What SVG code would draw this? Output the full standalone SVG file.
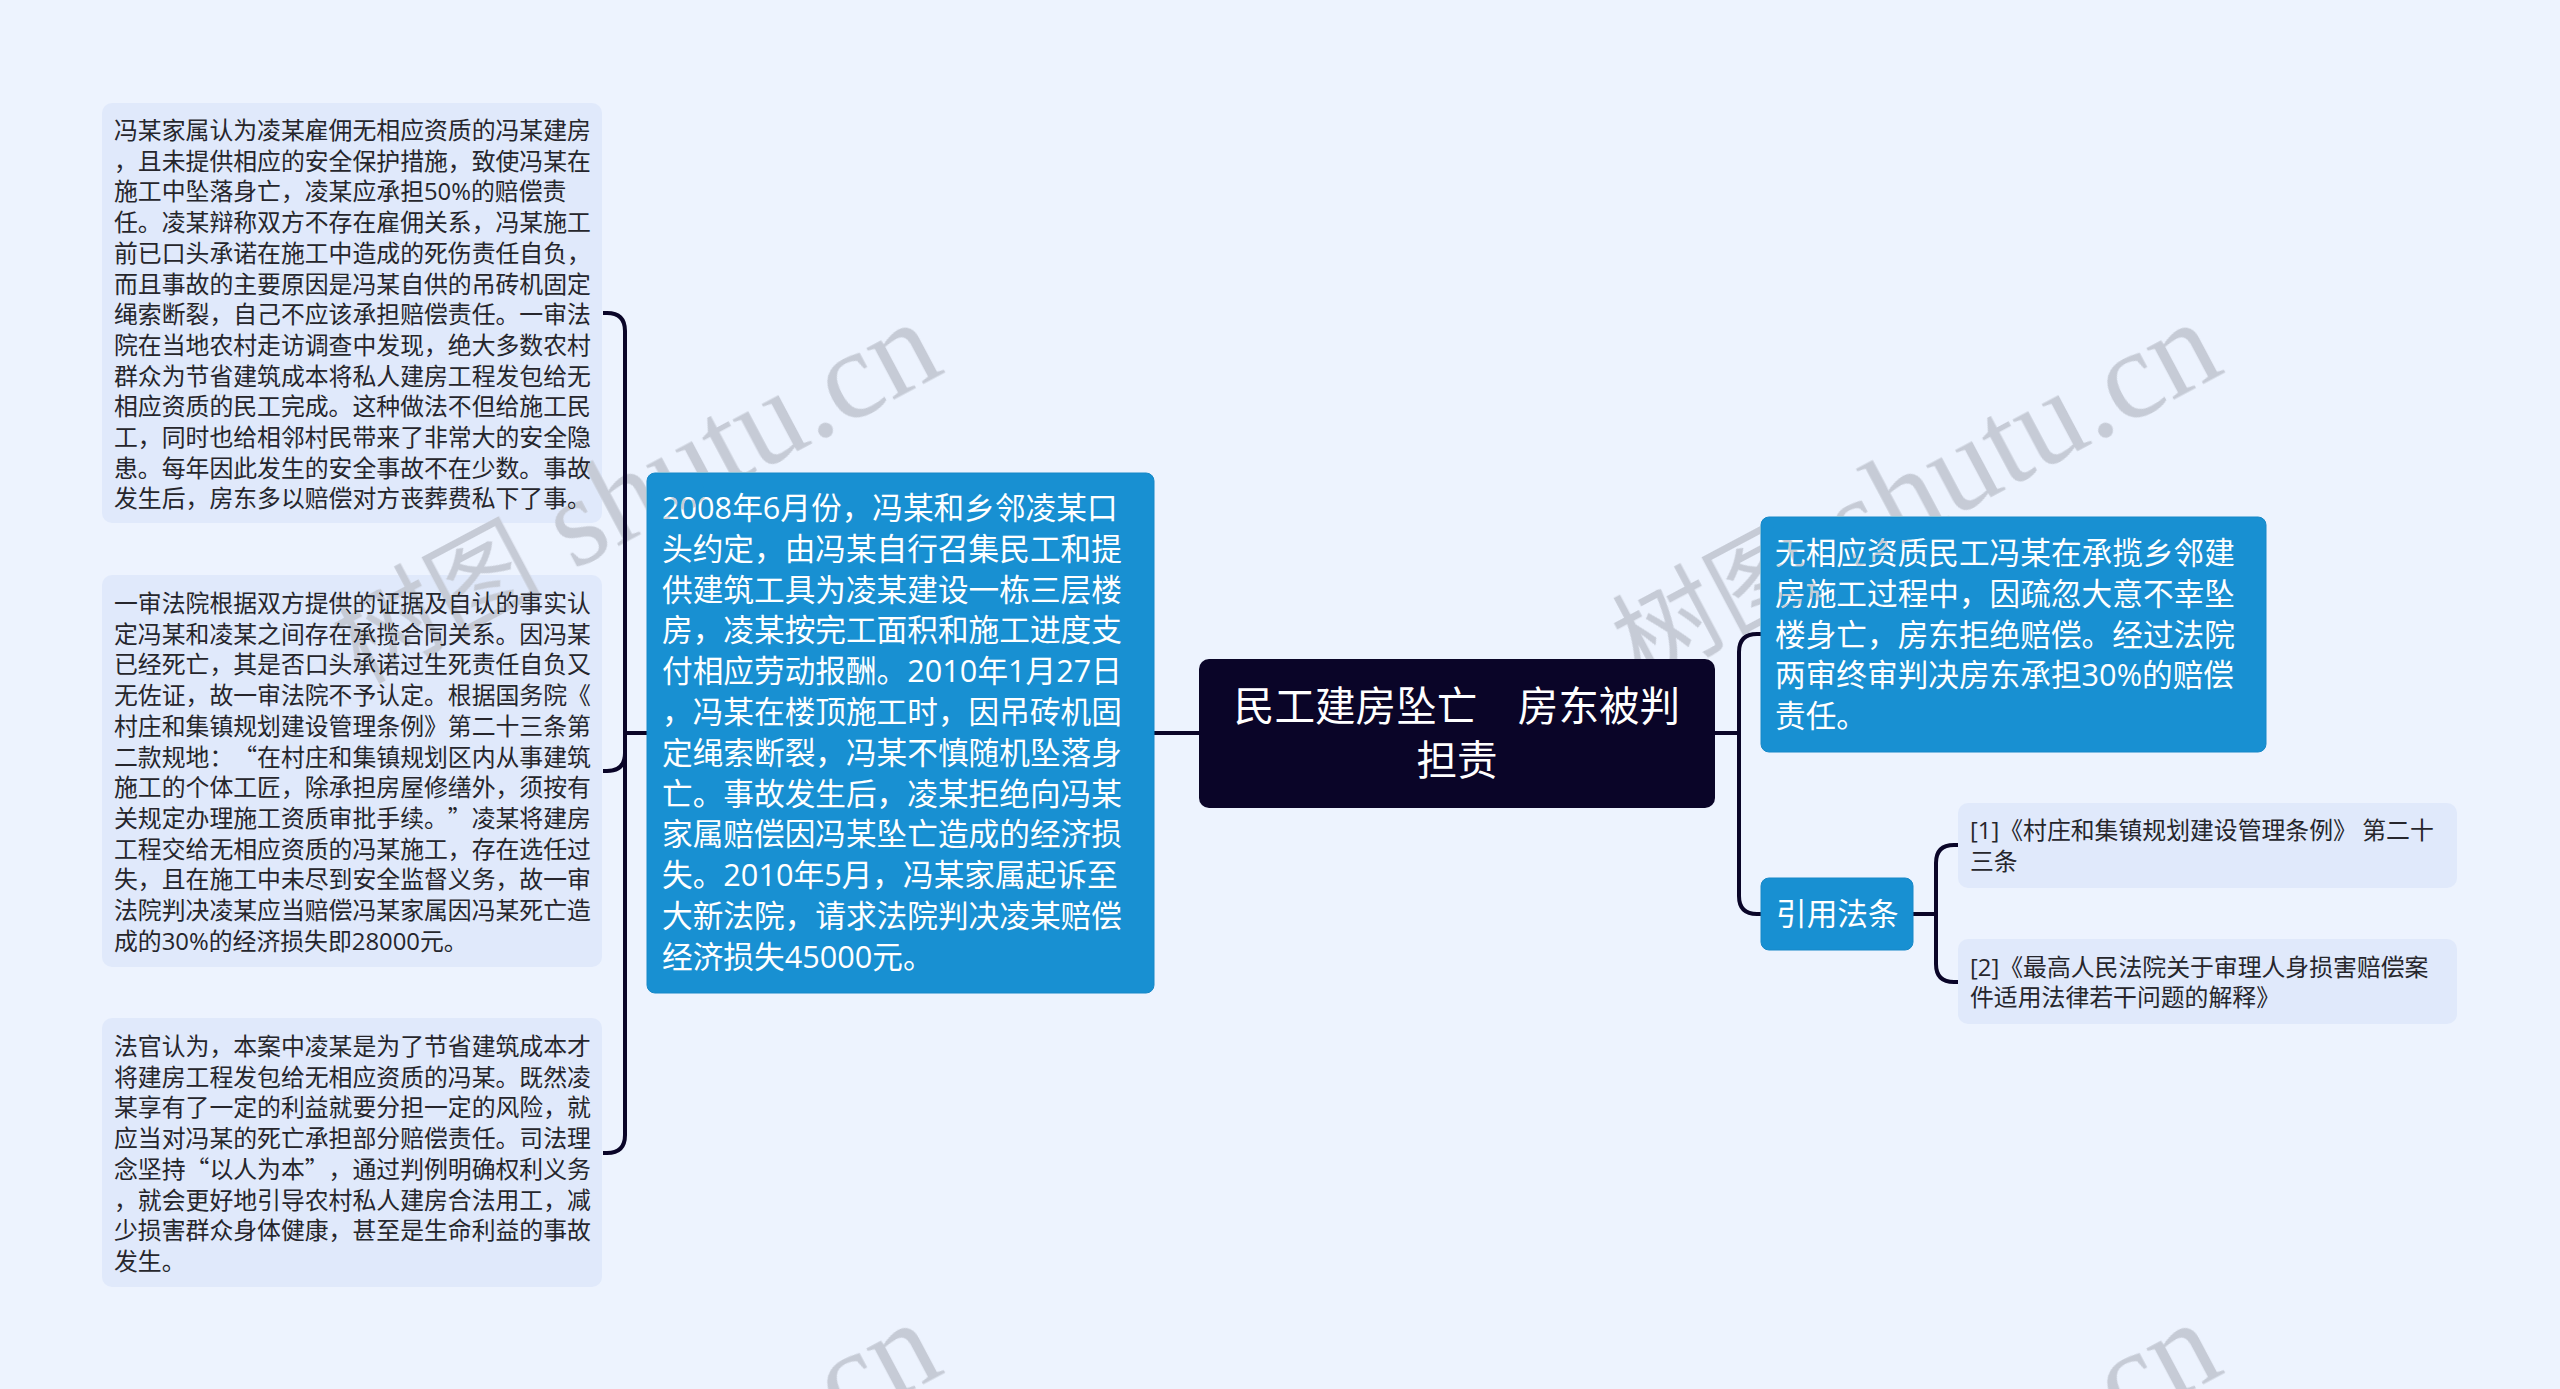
<svg xmlns="http://www.w3.org/2000/svg" width="2560" height="1389" viewBox="0 0 2560 1389">
<style>
text{font-family:"Noto Sans CJK SC","Noto Sans",sans-serif;text-spacing-trim:space-all}
.lat{font-family:"Open Sans","Noto Sans",sans-serif}
.leafbox{fill:#e0e9fb}
.bluebox{fill:#1890d2;stroke:#1688c8;stroke-width:1}
.rootbox{fill:#0a0528}
.leaf{font-size:23.85px;fill:#26262c}
.blue{font-size:30.67px;fill:#fff}
.root{font-size:40.6px;fill:#fff;text-anchor:middle}
.conn{fill:none;stroke:#0a0528;stroke-width:4}
.wm{font-family:"Liberation Serif","Noto Sans CJK SC",serif;font-size:126px;fill:#c6cbd6}
.wmc{font-family:"Noto Sans CJK SC",sans-serif;font-size:105px}
#watermarks{mix-blend-mode:darken}
</style>
<rect width="2560" height="1389" fill="#edf3fe"/>
<g id="connectors">
<path class="conn" d="M647 733H625"/>
<path class="conn" d="M603 313H607Q625 313 625 331V1135Q625 1153 607 1153H603"/>
<path class="conn" d="M603 771H607Q625 771 625 753V733"/>
<path class="conn" d="M1154 733H1199"/>
<path class="conn" d="M1715 733H1739"/>
<path class="conn" d="M1761 634H1757Q1739 634 1739 652V896Q1739 914 1757 914H1761"/>
<path class="conn" d="M1912 914H1936"/>
<path class="conn" d="M1958 845H1954Q1936 845 1936 863V964Q1936 982 1954 982H1958"/>
</g>
<g id="leaf1">
<rect class="leafbox" x="102" y="103" width="500" height="420" rx="10"/>
<g class="leaf">
<text x="114" y="139">冯某家属认为凌某雇佣无相应资质的冯某建房</text>
<text x="114" y="169.7">，且未提供相应的安全保护措施，致使冯某在</text>
<text x="114" y="200.4">施工中坠落身亡，凌某应承担<tspan class="lat">50%</tspan>的赔偿责</text>
<text x="114" y="231.1">任。凌某辩称双方不存在雇佣关系，冯某施工</text>
<text x="114" y="261.8">前已口头承诺在施工中造成的死伤责任自负，</text>
<text x="114" y="292.5">而且事故的主要原因是冯某自供的吊砖机固定</text>
<text x="114" y="323.2">绳索断裂，自己不应该承担赔偿责任。一审法</text>
<text x="114" y="353.9">院在当地农村走访调查中发现，绝大多数农村</text>
<text x="114" y="384.6">群众为节省建筑成本将私人建房工程发包给无</text>
<text x="114" y="415.3">相应资质的民工完成。这种做法不但给施工民</text>
<text x="114" y="446">工，同时也给相邻村民带来了非常大的安全隐</text>
<text x="114" y="476.7">患。每年因此发生的安全事故不在少数。事故</text>
<text x="114" y="507.4">发生后，房东多以赔偿对方丧葬费私下了事。</text>
</g>
</g>
<g id="leaf2">
<rect class="leafbox" x="102" y="575" width="500" height="392" rx="10"/>
<g class="leaf">
<text x="114" y="612">一审法院根据双方提供的证据及自认的事实认</text>
<text x="114" y="642.7">定冯某和凌某之间存在承揽合同关系。因冯某</text>
<text x="114" y="673.4">已经死亡，其是否口头承诺过生死责任自负又</text>
<text x="114" y="704.1">无佐证，故一审法院不予认定。根据国务院《</text>
<text x="114" y="734.8">村庄和集镇规划建设管理条例》第二十三条第</text>
<text x="114" y="765.5">二款规地：“在村庄和集镇规划区内从事建筑</text>
<text x="114" y="796.2">施工的个体工匠，除承担房屋修缮外，须按有</text>
<text x="114" y="826.9">关规定办理施工资质审批手续。”凌某将建房</text>
<text x="114" y="857.6">工程交给无相应资质的冯某施工，存在选任过</text>
<text x="114" y="888.3">失，且在施工中未尽到安全监督义务，故一审</text>
<text x="114" y="919">法院判决凌某应当赔偿冯某家属因冯某死亡造</text>
<text x="114" y="949.7">成的<tspan class="lat">30%</tspan>的经济损失即<tspan class="lat">28000</tspan>元。</text>
</g>
</g>
<g id="leaf3">
<rect class="leafbox" x="102" y="1018" width="500" height="269" rx="10"/>
<g class="leaf">
<text x="114" y="1055">法官认为，本案中凌某是为了节省建筑成本才</text>
<text x="114" y="1085.7">将建房工程发包给无相应资质的冯某。既然凌</text>
<text x="114" y="1116.4">某享有了一定的利益就要分担一定的风险，就</text>
<text x="114" y="1147.1">应当对冯某的死亡承担部分赔偿责任。司法理</text>
<text x="114" y="1177.8">念坚持“以人为本”，通过判例明确权利义务</text>
<text x="114" y="1208.5">，就会更好地引导农村私人建房合法用工，减</text>
<text x="114" y="1239.2">少损害群众身体健康，甚至是生命利益的事故</text>
<text x="114" y="1269.9">发生。</text>
</g>
</g>
<g id="main">
<rect class="bluebox" x="647" y="473" width="507" height="520" rx="8"/>
<g class="blue">
<text x="662" y="519"><tspan class="lat">2008</tspan>年<tspan class="lat">6</tspan>月份，冯某和乡邻凌某口</text>
<text x="662" y="559.8">头约定，由冯某自行召集民工和提</text>
<text x="662" y="600.6">供建筑工具为凌某建设一栋三层楼</text>
<text x="662" y="641.4">房，凌某按完工面积和施工进度支</text>
<text x="662" y="682.2">付相应劳动报酬。<tspan class="lat">2010</tspan>年<tspan class="lat">1</tspan>月<tspan class="lat">27</tspan>日</text>
<text x="662" y="723">，冯某在楼顶施工时，因吊砖机固</text>
<text x="662" y="763.8">定绳索断裂，冯某不慎随机坠落身</text>
<text x="662" y="804.6">亡。事故发生后，凌某拒绝向冯某</text>
<text x="662" y="845.4">家属赔偿因冯某坠亡造成的经济损</text>
<text x="662" y="886.2">失。<tspan class="lat">2010</tspan>年<tspan class="lat">5</tspan>月，冯某家属起诉至</text>
<text x="662" y="927">大新法院，请求法院判决凌某赔偿</text>
<text x="662" y="967.8">经济损失<tspan class="lat">45000</tspan>元。</text>
</g>
</g>
<g id="root">
<rect class="rootbox" x="1199" y="659" width="516" height="149" rx="10"/>
<text class="root" x="1457" y="721">民工建房坠亡　房东被判</text>
<text class="root" x="1457" y="775">担责</text>
</g>
<g id="right1">
<rect class="bluebox" x="1761" y="517" width="505" height="235" rx="8"/>
<g class="blue">
<text x="1775" y="564">无相应资质民工冯某在承揽乡邻建</text>
<text x="1775" y="604.8">房施工过程中，因疏忽大意不幸坠</text>
<text x="1775" y="645.6">楼身亡，房东拒绝赔偿。经过法院</text>
<text x="1775" y="686.4">两审终审判决房东承担<tspan class="lat">30%</tspan>的赔偿</text>
<text x="1775" y="727.2">责任。</text>
</g>
</g>
<g id="right2">
<rect class="bluebox" x="1761" y="878" width="152" height="72" rx="8"/>
<text class="blue" x="1776" y="925">引用法条</text>
</g>
<g id="law1">
<rect class="leafbox" x="1958" y="803" width="499" height="85" rx="10"/>
<g class="leaf">
<text x="1970" y="839"><tspan class="lat">[1]</tspan>《村庄和集镇规划建设管理条例》 第二十</text>
<text x="1970" y="870">三条</text>
</g>
</g>
<g id="law2">
<rect class="leafbox" x="1958" y="939" width="499" height="85" rx="10"/>
<g class="leaf">
<text x="1970" y="975.5"><tspan class="lat">[2]</tspan>《最高人民法院关于审理人身损害赔偿案</text>
<text x="1970" y="1005.5">件适用法律若干问题的解释》</text>
</g>
</g>
<g id="watermarks">
<text class="wm" transform="translate(360 684) rotate(-28)"><tspan class="wmc">树图</tspan> shutu.cn</text>
<text class="wm" transform="translate(1640 684) rotate(-28)"><tspan class="wmc">树图</tspan> shutu.cn</text>
<text class="wm" transform="translate(842 1428) rotate(-28)">cn</text>
<text class="wm" transform="translate(2122 1428) rotate(-28)">cn</text>
</g>
</svg>
